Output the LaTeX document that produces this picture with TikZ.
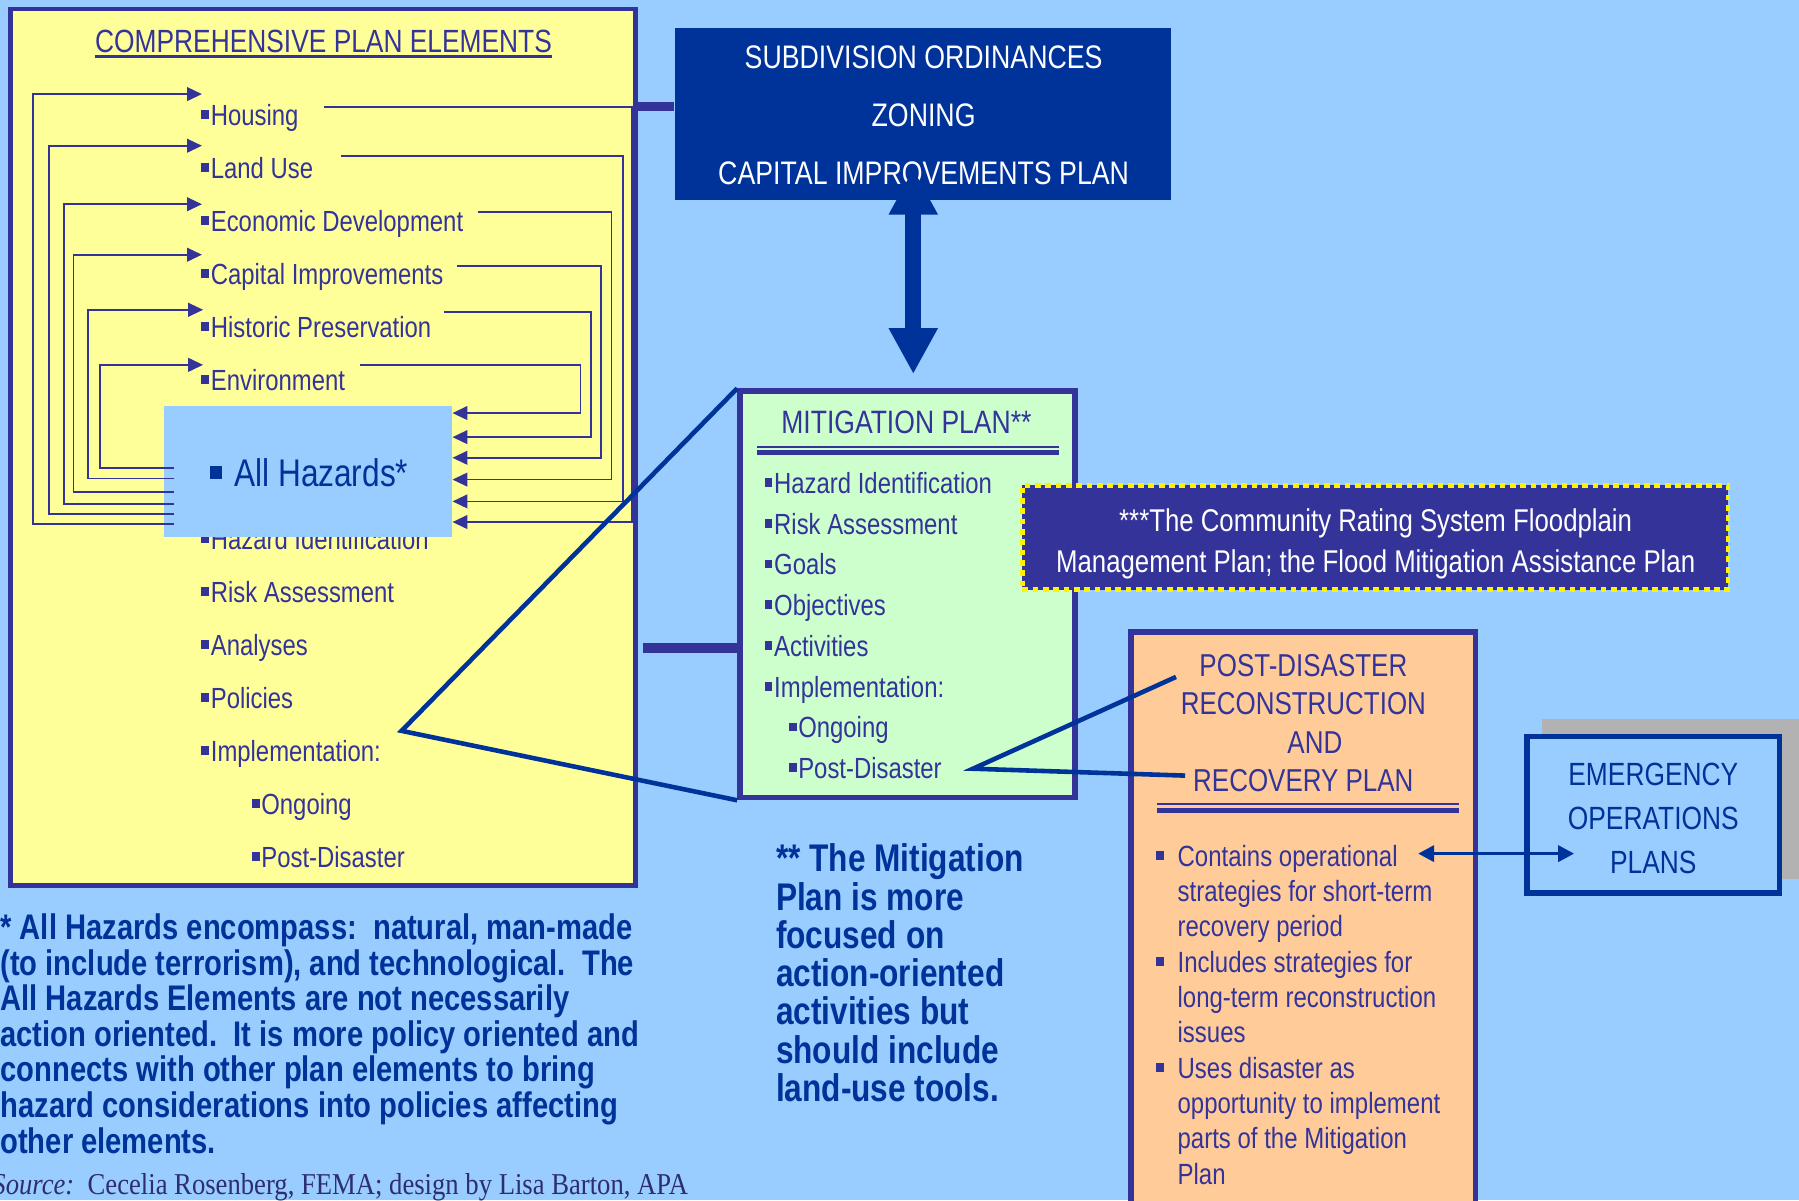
\documentclass[tikz,border=0pt]{standalone}
\usepackage{fontspec}
\setmainfont{Liberation Sans}[FakeStretch=0.82]
\newfontfamily\nserif{Liberation Serif}[FakeStretch=0.88]
\usetikzlibrary{arrows.meta,fit}
\definecolor{bg}{HTML}{99CCFF}
\definecolor{ink}{HTML}{333399}
\definecolor{dkb}{HTML}{003399}
\definecolor{yel}{HTML}{FFFF99}
\definecolor{grn}{HTML}{CCFFCC}
\definecolor{org}{HTML}{FFCC99}
\definecolor{shd}{HTML}{B2B2B2}
\definecolor{src}{HTML}{2E2E6E}
\newcommand\mysq{\rule[0.22em]{0.27em}{0.3em}\kern0.06em}
\frenchspacing
\tikzset{
  box/.style={inner sep=0pt},
  itm/.style={anchor=base west, inner sep=0pt, text=ink, font=\fontsize{12.7}{15}\selectfont},
  ttl/.style={anchor=base, inner sep=0pt, text=ink, font=\fontsize{14}{16}\selectfont},
  wht/.style={anchor=base, inner sep=0pt, text=white, font=\fontsize{14.2}{16}\selectfont},
  crstxt/.style={anchor=base, inner sep=0pt, text=white, font=\fontsize{13.7}{16}\selectfont},
  ptxt/.style={anchor=base west, inner sep=0pt, text=ink, font=\fontsize{12.75}{15}\selectfont},
  eop/.style={anchor=base, inner sep=0pt, text=dkb, font=\fontsize{14}{16}\selectfont},
  noteL/.style={anchor=base west, inner sep=0pt, text=dkb, font=\bfseries\fontsize{15.5}{17}\selectfont},
  noteC/.style={anchor=base west, inner sep=0pt, text=dkb, font=\bfseries\fontsize{16.8}{18}\selectfont},
  ln/.style={ink, line width=0.75pt},
  arr/.style={ln, -{Triangle[length=6.5pt,width=6pt]}},
  thick conn/.style={ink, line width=4.5pt},
  blue conn/.style={dkb, line width=2pt, line join=miter},
}
\begin{document}
\begin{tikzpicture}[x=0.5pt,y=-0.5pt]
\useasboundingbox (0,0) rectangle (1568,1046);
\clip (0,0) rectangle (1568,1046);
\fill[bg] (0,0) rectangle (1568,1046);

% ---------- Comprehensive plan elements ----------
\node[box, fit={(9,8)(554,772)}, draw=ink, line width=2pt, fill=yel] (cpe) {};
\node[ttl] (cpet) at (282,46) {COMPREHENSIVE PLAN ELEMENTS};
\draw[ink, line width=1pt] ([yshift=-1.6pt]cpet.base west) -- ([yshift=-1.6pt]cpet.base east);

\foreach \k/\t in {0/Housing,1/Land Use,2/Economic Development,3/Capital Improvements,4/Historic Preservation,5/Environment,8/Hazard Identification,9/Risk Assessment,10/Analyses,11/Policies,12/Implementation:}
  \node[itm] (L\k) at (175,{109+46.2*\k}) {\mysq\t};
\node[itm] (L13) at (219,{109+46.2*13}) {\mysq Ongoing};
\node[itm] (L14) at (219,{109+46.2*14}) {\mysq Post-Disaster};

% All hazards box
\node[box, fit={(143,354)(394,468)}, fill=bg] (ah) {};
\node[anchor=base west, inner sep=0pt, text=dkb, font=\fontsize{16.8}{19}\selectfont] (aht) at (183,424) {\rule[0.2em]{0.3em}{0.32em}\hspace{0.32em}All Hazards*};

% left feedback arrows (All Hazards -> elements)
\draw[arr] (152,457) -| (29,82) -- (176,82);
\draw[arr] (152,448) -| (43,127) -- (176,127);
\draw[arr] (152,439) -| (56,178) -- (176,178);
\draw[arr] (152,429) -| (64,222) -- (176,222);
\draw[arr] (152,417) -| (77,270) -- (177,270);
\draw[arr] (152,408) -| (87,318) -- (177,318);

% right arrows (elements -> All Hazards)
\draw[arr] (282,93) -| (551,455) -- (ah.east |- 0,455);
\draw[arr] (297,136) -| (543,437) -- (ah.east |- 0,437);
\draw[arr] (417,185) -| (533,418) -- (ah.east |- 0,418);
\draw[arr] (398,232) -| (524,399) -- (ah.east |- 0,399);
\draw[arr] (387,272) -| (515,381) -- (ah.east |- 0,381);
\draw[arr] (314,318) -| (506,360) -- (ah.east |- 0,360);

% ---------- Subdivision box ----------
\node[box, fit={(588,24)(1021,174)}, fill=dkb] (sub) {};
\node[wht] (s1) at (805,60) {SUBDIVISION ORDINANCES};
\node[wht] (s2) at (805,110) {ZONING};
\node[wht] (s3) at (805,161) {CAPITAL IMPROVEMENTS PLAN};
\draw[thick conn, line width=4pt] (cpe.east |- 0,93) -- (sub.west |- 0,93);

% ---------- Mitigation plan ----------
\node[box, fit={(645,341)(937,695)}, draw=ink, line width=2.5pt, fill=grn] (mit) {};
\node[ttl, font=\fontsize{14.1}{16}\selectfont] (mitt) at (790,378) {MITIGATION PLAN**};
\draw[ink, line width=0.75pt] (660,389.5) -- (923,389.5);
\draw[ink, line width=2pt] (660,394.5) -- (923,394.5);
\foreach \k/\t in {0/Hazard Identification,1/Risk Assessment,2/Goals,3/Objectives,4/Activities,5/Implementation:}
  \node[itm] (M\k) at (666,{430+35.5*\k}) {\mysq\t};
\node[itm] (M6) at (687,{430+35.5*6}) {\mysq Ongoing};
\node[itm] (M7) at (687,{430+35.5*7}) {\mysq Post-Disaster};

\draw[thick conn] (560,565) -- (mit.west |- 0,565);

% big double arrow
\coordinate (aU) at (796,147);
\coordinate (aD) at (796,326);
\draw[dkb, line width=7pt, {Triangle[length=20pt,width=20pt]}-{Triangle[length=20pt,width=20pt]}] (aU) -- (aD);

% triangle linking implementation to mitigation
\coordinate (tri) at (350,637);
\draw[blue conn] (mit.north west) -- (tri) -- (mit.south west);

% ---------- CRS box ----------
\node[box, fit={(891,423)(1506,514)}, fill=ink, draw=yellow, line width=2pt, dash pattern=on 2.5pt off 2pt] (crs) {};
\node[crstxt] (c1) at (1199,463) {***The Community Rating System Floodplain};
\node[crstxt] (c2) at (1199,499) {Management Plan; the Flood Mitigation Assistance Plan};

% ---------- Post-disaster box ----------
\node[box, fit={(986,551)(1286,1075)}, draw=ink, line width=2.5pt, fill=org] (pdr) {};
\node[ttl, font=\fontsize{13.8}{16}\selectfont] (p1) at (1136,590) {POST-DISASTER};
\node[ttl, font=\fontsize{13.8}{16}\selectfont] (p2) at (1136,623) {RECONSTRUCTION};
\node[ttl, font=\fontsize{13.8}{16}\selectfont] (p3) at (1146,657) {AND};
\node[ttl, font=\fontsize{13.8}{16}\selectfont] (p4) at (1136,690) {RECOVERY PLAN};
\draw[ink, line width=0.75pt] (1008,701) -- (1272,701);
\draw[ink, line width=2pt] (1008,706.5) -- (1272,706.5);
\foreach \k/\t in {0/Contains operational,1/strategies for short-term,2/recovery period,3/Includes strategies for,4/long-term reconstruction,5/issues,6/Uses disaster as,7/opportunity to implement,8/parts of the Mitigation,9/Plan}
  \node[ptxt] (P\k) at (1026,{755+30.8*\k}) {\t};
\foreach \k in {0,3,6}
  \node[ptxt] (PB\k) at (1007,{755+30.8*\k}) {\mysq};

% link mitigation post-disaster -> post-disaster plan
\coordinate (pdA) at (1025,590);
\coordinate (pdV) at (848,670);
\coordinate (pdB) at (1033,676);
\draw[blue conn] (pdA) -- (pdV) -- (pdB);

% ---------- Emergency operations ----------
\fill[shd] (1344,627) rectangle (1568,766);
\node[box, fit={(1331,642)(1551,778)}, draw=dkb, line width=2.5pt, fill=bg] (eopb) {};
\node[eop] (e1) at (1441,685) {EMERGENCY};
\node[eop] (e2) at (1441,723) {OPERATIONS};
\node[eop] (e3) at (1441,761) {PLANS};
\coordinate (dL) at (1236,744);
\coordinate (dR) at (1372,744);
\draw[dkb, line width=1.6pt, {Triangle[length=7pt,width=7pt]}-{Triangle[length=7pt,width=7pt]}] (dL) -- (dR);

% ---------- Notes ----------
\foreach \k/\t in {0/{* All Hazards encompass:~ natural, man-made},1/{(to include terrorism), and technological.~ The},2/{All Hazards Elements are not necessarily},3/{action oriented.~ It is more policy oriented and},4/{connects with other plan elements to bring},5/{hazard considerations into policies affecting},6/{other elements.}}
  \node[noteL] (N\k) at (0,{819+31*\k}) {\t};
\foreach \k/\t in {0/{** The Mitigation},1/{Plan is more},2/{focused on},3/{action-oriented},4/{activities but},5/{should include},6/{land-use tools.}}
  \node[noteC] (C\k) at (676,{760+33.3*\k}) {\t};

\node[anchor=base west, inner sep=0pt, text=src, font=\nserif\fontsize{13.2}{15}\selectfont] (srcn) at (-7,1041) {\textit{Source:}~ Cecelia Rosenberg, FEMA; design by Lisa Barton, APA};
\end{tikzpicture}
\end{document}
